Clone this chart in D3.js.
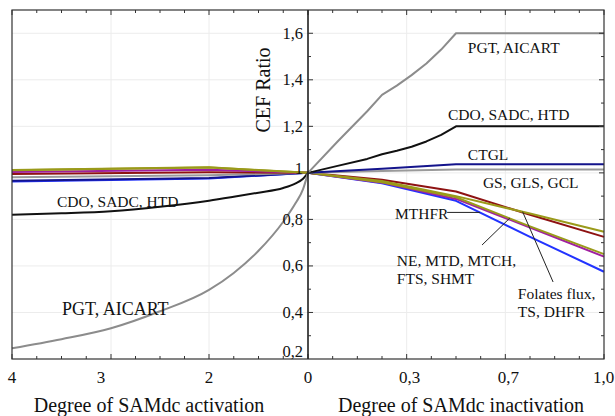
<!DOCTYPE html>
<html>
<head>
<meta charset="utf-8">
<script src="https://cdnjs.cloudflare.com/ajax/libs/d3/7.8.5/d3.min.js"></script>
<style>
  body { margin: 0; background: #fff; }
  svg text { font-family: "Liberation Serif", "Times New Roman", "DejaVu Serif", serif; fill: #111; }
</style>
</head>
<body>
<div id="chart"></div>
<script>
// left half: degree of SAMdc activation (4 ... 0), right half: inactivation (0 ... 1)
var leftTicks = [4, 3, 2, 0];
var leftTickLabels = ["4", "3", "2", "0"];
var leftMinor = [3.75, 3.5, 3.25, 2.75, 2.5, 2.25, 1.5, 1, 0.5];
var rightTicks = [0, 1 / 3, 2 / 3, 1];
var rightTickLabels = ["0", "0,3", "0,7", "1,0"];
var rightMinor = [1 / 12, 2 / 12, 3 / 12, 5 / 12, 6 / 12, 7 / 12, 9 / 12, 10 / 12, 11 / 12];
var yTicks = [0.2, 0.4, 0.6, 0.8, 1, 1.2, 1.4, 1.6];
var yTickLabels = ["0,2", "0,4", "0,6", "0,8", "1", "1,2", "1,4", "1,6"];

// curves on the activation side
var dSmooth = [4, 3.5, 3, 2.5, 2, 1.5, 1, 0.5, 0.25, 0.1, 0];
var pgtLeft = [0.246, 0.285, 0.332, 0.405, 0.497, 0.57, 0.665, 0.79, 0.87, 0.93, 1];
var cdoLeft = [0.82, 0.826, 0.835, 0.854, 0.88, 0.897, 0.915, 0.935, 0.955, 0.975, 1];
var dFlat = [4, 2, 0];
var oliveLeft = [1.012, 1.024, 1];
var olive2Left = [1.011, 1.023, 1];
var purpleLeft = [1.004, 1.013, 1];
var redLeft = [0.995, 1.003, 1];
var gsLeft = [0.981, 0.99, 1];
var navyLeft = [0.966, 0.978, 1];
var blueLeft = [0.963, 0.976, 1];

// curves on the inactivation side
var xSteep = [0, 0.1, 0.2, 0.25, 0.3, 0.35, 0.4, 0.45, 0.5, 1];
var pgtRight = [1, 1.135, 1.265, 1.335, 1.375, 1.42, 1.47, 1.53, 1.6, 1.6];
var cdoRight = [1, 1.03, 1.06, 1.08, 1.095, 1.112, 1.135, 1.163, 1.2, 1.2];
var xStep = [0, 0.25, 0.5, 0.75, 1];
var ctglRight = [1, 1.018, 1.037, 1.037, 1.037];
var gsRight = [1, 1.008, 1.015, 1.015, 1.015];
var oliveRight = [1, 0.965, 0.9, 0.825, 0.747];
var redRight = [1, 0.97, 0.92, 0.82, 0.725];
var olive2Right = [1, 0.96, 0.895, 0.77, 0.651];
var purpleRight = [1, 0.958, 0.888, 0.765, 0.64];
var blueRight = [1, 0.955, 0.88, 0.725, 0.575];

var width = 615, height = 416;
var plotTop = 10, plotBottom = 359, plotLeft = 12, plotMid = 308, plotRight = 604;

var y = d3.scaleLinear().domain([0.2, 1.7]).range([plotBottom, plotTop]);
var xL = d3.scaleLinear().domain([4, 3, 2, 0]).range([plotLeft, 111, 209, plotMid]);
var xR = d3.scaleLinear().domain([0, 1]).range([plotMid, plotRight]);

var svg = d3.select('#chart').append('svg')
    .attr('width', width)
    .attr('height', height);

// faint grid
var grid = svg.append('g').attr('stroke', '#ececec').attr('stroke-width', 1);
grid.selectAll('.gy').data(yTicks.slice(1)).enter().append('line')
    .attr('x1', plotLeft).attr('x2', plotRight)
    .attr('y1', function(d) { return y(d); }).attr('y2', function(d) { return y(d); });
grid.selectAll('.gl').data([3, 2]).enter().append('line')
    .attr('x1', function(d) { return xL(d); }).attr('x2', function(d) { return xL(d); })
    .attr('y1', plotTop).attr('y2', plotBottom);
grid.selectAll('.gr').data([1 / 3, 2 / 3]).enter().append('line')
    .attr('x1', function(d) { return xR(d); }).attr('x2', function(d) { return xR(d); })
    .attr('y1', plotTop).attr('y2', plotBottom);

// series
var series = [
    { sc: xL, xs: dFlat, ys: blueLeft, color: '#2233ff', curve: d3.curveLinear },
    { sc: xL, xs: dFlat, ys: navyLeft, color: '#14148c', curve: d3.curveLinear },
    { sc: xL, xs: dFlat, ys: gsLeft, color: '#9a9a9a', curve: d3.curveLinear },
    { sc: xL, xs: dFlat, ys: redLeft, color: '#8e1212', curve: d3.curveLinear },
    { sc: xL, xs: dFlat, ys: purpleLeft, color: '#a020a0', curve: d3.curveLinear },
    { sc: xL, xs: dFlat, ys: olive2Left, color: '#9a9a1a', curve: d3.curveLinear },
    { sc: xL, xs: dFlat, ys: oliveLeft, color: '#9a9a1a', curve: d3.curveLinear },
    { sc: xL, xs: dSmooth, ys: cdoLeft, color: '#111111', curve: d3.curveMonotoneX },
    { sc: xL, xs: dSmooth, ys: pgtLeft, color: '#8c8c8c', curve: d3.curveMonotoneX },
    { sc: xR, xs: xStep, ys: blueRight, color: '#2233ff', curve: d3.curveLinear },
    { sc: xR, xs: xStep, ys: purpleRight, color: '#a020a0', curve: d3.curveLinear },
    { sc: xR, xs: xStep, ys: olive2Right, color: '#9a9a1a', curve: d3.curveLinear },
    { sc: xR, xs: xStep, ys: redRight, color: '#8e1212', curve: d3.curveLinear },
    { sc: xR, xs: xStep, ys: oliveRight, color: '#9a9a1a', curve: d3.curveLinear },
    { sc: xR, xs: xStep, ys: gsRight, color: '#9a9a9a', curve: d3.curveLinear },
    { sc: xR, xs: xStep, ys: ctglRight, color: '#14148c', curve: d3.curveLinear },
    { sc: xR, xs: xSteep, ys: cdoRight, color: '#111111', curve: d3.curveLinear },
    { sc: xR, xs: xSteep, ys: pgtRight, color: '#8c8c8c', curve: d3.curveLinear }
];

series.forEach(function(s) {
    var pts = s.xs.map(function(v, i) { return [v, s.ys[i]]; });
    var line = d3.line()
        .curve(s.curve)
        .x(function(d) { return s.sc(d[0]); })
        .y(function(d) { return y(d[1]); });
    svg.append('path')
        .attr('d', line(pts))
        .attr('fill', 'none')
        .attr('stroke', s.color)
        .attr('stroke-width', 2)
        .attr('stroke-linejoin', 'round');
});

// frame and middle axis
svg.append('rect')
    .attr('x', plotLeft).attr('y', plotTop)
    .attr('width', plotRight - plotLeft).attr('height', plotBottom - plotTop)
    .attr('fill', 'none').attr('stroke', '#333').attr('stroke-width', 1.2);
svg.append('line')
    .attr('x1', plotMid).attr('x2', plotMid).attr('y1', plotTop).attr('y2', plotBottom)
    .attr('stroke', '#111').attr('stroke-width', 1.5);

// tick marks
var tk = svg.append('g').attr('stroke', '#333').attr('stroke-width', 1);
function xTicks(vals, sc, len) {
    vals.forEach(function(v) {
        tk.append('line').attr('x1', sc(v)).attr('x2', sc(v)).attr('y1', plotBottom).attr('y2', plotBottom - len);
        tk.append('line').attr('x1', sc(v)).attr('x2', sc(v)).attr('y1', plotTop).attr('y2', plotTop + len);
    });
}
xTicks(leftTicks, xL, 5);
xTicks(leftMinor, xL, 3);
xTicks(rightTicks, xR, 5);
xTicks(rightMinor, xR, 3);
d3.range(3, 17).forEach(function(k) {
    var v = k / 10;
    var len = k % 2 === 0 ? 5 : 3;
    tk.append('line').attr('x1', plotMid).attr('x2', plotMid + len).attr('y1', y(v)).attr('y2', y(v));
    tk.append('line').attr('x1', plotRight).attr('x2', plotRight - len).attr('y1', y(v)).attr('y2', y(v));
});

// tick labels
svg.selectAll('.yl').data(yTicks).enter().append('text')
    .attr('x', plotMid - 5)
    .attr('y', function(d) { return y(d) + (d === 0.2 ? -2 : d === 1 ? 1 : 5.5); })
    .attr('text-anchor', 'end')
    .attr('font-size', 16.5)
    .text(function(d, i) { return yTickLabels[i]; });

svg.selectAll('.xll').data(leftTicks).enter().append('text')
    .attr('x', function(d) { return xL(d) + (d === 3 ? -10 : 0); })
    .attr('y', 383)
    .attr('text-anchor', 'middle')
    .attr('font-size', 17)
    .text(function(d, i) { return leftTickLabels[i]; });

svg.selectAll('.xrl').data(rightTicks.slice(1)).enter().append('text')
    .attr('x', function(d) { return xR(d) + (d === 1 ? -0.5 : 3); })
    .attr('y', 383)
    .attr('text-anchor', 'middle')
    .attr('font-size', 17)
    .text(function(d, i) { return rightTickLabels[i + 1]; });

// axis titles
svg.append('text').attr('x', 149).attr('y', 412).attr('text-anchor', 'middle')
    .attr('font-size', 20).text('Degree of SAMdc activation');
svg.append('text').attr('x', 461).attr('y', 412).attr('text-anchor', 'middle')
    .attr('font-size', 20).text('Degree of SAMdc inactivation');
svg.append('text')
    .attr('transform', 'translate(270,90) rotate(-90)')
    .attr('text-anchor', 'middle')
    .attr('font-size', 20).text('CEF Ratio');

// curve annotations (data units)
var notes = [
    { sc: xR, x: 0.54, y: 1.515, size: 15.5, text: 'PGT, AICART' },
    { sc: xR, x: 0.473, y: 1.227, size: 15.5, text: 'CDO, SADC, HTD' },
    { sc: xR, x: 0.54, y: 1.055, size: 15.5, text: 'CTGL' },
    { sc: xR, x: 0.591, y: 0.935, size: 15.5, text: 'GS, GLS, GCL' },
    { sc: xR, x: 0.294, y: 0.8, size: 15.5, text: 'MTHFR' },
    { sc: xR, x: 0.30, y: 0.6, size: 15.5, text: 'NE, MTD, MTCH,' },
    { sc: xR, x: 0.30, y: 0.522, size: 15.5, text: 'FTS, SHMT' },
    { sc: xR, x: 0.709, y: 0.458, size: 15.5, text: 'Folates flux,' },
    { sc: xR, x: 0.709, y: 0.38, size: 15.5, text: 'TS, DHFR' },
    { sc: xL, x: 3.545, y: 0.853, size: 15.5, text: 'CDO, SADC, HTD' },
    { sc: xL, x: 3.495, y: 0.39, size: 18, text: 'PGT, AICART' }
];
svg.selectAll('.note').data(notes).enter().append('text')
    .attr('x', function(d) { return d.sc(d.x); })
    .attr('y', function(d) { return y(d.y); })
    .attr('font-size', function(d) { return d.size; })
    .text(function(d) { return d.text; });

// leader lines
var leaders = [
    [[0.47, 0.83], [0.581, 0.83]],
    [[0.588, 0.69], [0.682, 0.806]],
    [[0.828, 0.531], [0.725, 0.833]]
];
leaders.forEach(function(l) {
    svg.append('line')
        .attr('x1', xR(l[0][0])).attr('y1', y(l[0][1]))
        .attr('x2', xR(l[1][0])).attr('y2', y(l[1][1]))
        .attr('stroke', '#222').attr('stroke-width', 1);
});
</script>
</body>
</html>
